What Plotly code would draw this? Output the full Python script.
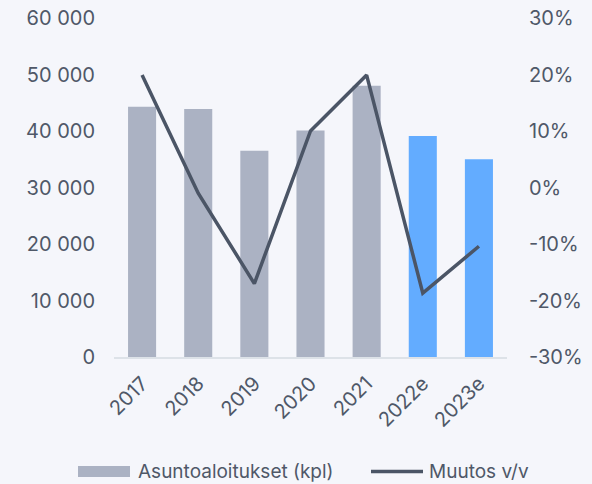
import plotly.graph_objects as go

years = ["2017", "2018", "2019", "2020", "2021", "2022e", "2023e"]
starts = [44300, 43900, 36500, 40100, 48000, 39100, 35000]
change = [19.9, -1.0, -17.0, 10.0, 19.9, -18.7, -10.4]
bar_colors = ["#abb2c3"] * 5 + ["#63acff"] * 2
left_ticks = [0, 10000, 20000, 30000, 40000, 50000, 60000]
left_labels = ["0", "10 000", "20 000", "30 000", "40 000", "50 000", "60 000"]
right_ticks = [-30, -20, -10, 0, 10, 20, 30]
right_labels = ["-30%", "-20%", "-10%", "0%", "10%", "20%", "30%"]
legend_names = ["Asuntoaloitukset (kpl)", "Muutos v/v"]

txt = "#4f5868"
font = "Inter, Lato, sans-serif"
fs = 19
tfs = 20

fig = go.Figure()
fig.add_trace(go.Bar(
    x=years, y=starts, name=legend_names[0],
    marker=dict(color=bar_colors, line=dict(width=0)),
    width=0.5, yaxis="y",
))
fig.add_trace(go.Scatter(
    x=years, y=change, name=legend_names[1], mode="lines",
    line=dict(color="#4b5566", width=3.5), yaxis="y2",
))

L, R, T, B = 114, 85, 18, 127
W, H = 592, 484
pw, ph = W - L - R, H - T - B

def px(x):
    return (x - L) / pw

def py(y):
    return (H - B - y) / ph

shapes = [
    dict(type="rect", xref="paper", yref="paper",
         x0=px(78), x1=px(130), y0=py(477), y1=py(466),
         fillcolor="#abb2c3", line=dict(width=0)),
    dict(type="line", xref="paper", yref="paper",
         x0=px(371), x1=px(423), y0=py(471.5), y1=py(471.5),
         line=dict(color="#4b5566", width=3.5)),
]
annotations = [
    dict(text=legend_names[0], xref="paper", yref="paper", x=px(136), y=py(471.5),
         xanchor="left", yanchor="middle", showarrow=False,
         font=dict(family=font, size=fs, color=txt)),
    dict(text=legend_names[1], xref="paper", yref="paper", x=px(427), y=py(471.5),
         xanchor="left", yanchor="middle", showarrow=False,
         font=dict(family=font, size=fs, color=txt)),
]

fig.update_layout(
    width=W, height=H,
    margin=dict(l=L, r=R, t=T, b=B, autoexpand=False),
    paper_bgcolor="#f5f6fb", plot_bgcolor="#f5f6fb",
    font=dict(family=font, size=fs, color=txt),
    showlegend=False,
    shapes=shapes, annotations=annotations,
    xaxis=dict(tickangle=-45, showgrid=False, showline=True, linecolor="#dde2e8",
               linewidth=2, ticks="", tickfont=dict(size=tfs, color=txt),
               automargin=False, ticklabelstandoff=5),
    yaxis=dict(range=[0, 60000], tickvals=left_ticks, ticktext=left_labels,
               showgrid=False, zeroline=False, showline=False, ticks="",
               tickfont=dict(size=tfs, color=txt), automargin=False,
               ticklabelstandoff=18),
    yaxis2=dict(range=[-30, 30], tickvals=right_ticks, ticktext=right_labels,
                overlaying="y", side="right", showgrid=False, zeroline=False,
                showline=False, ticks="", tickfont=dict(size=tfs, color=txt),
                automargin=False, ticklabelstandoff=21),
    bargap=0.5,
)
fig.write_html(
    "out.html",
    config={"displayModeBar": False},
    post_script="document.body.style.margin='0';document.body.style.background='#f5f6fb';",
)
